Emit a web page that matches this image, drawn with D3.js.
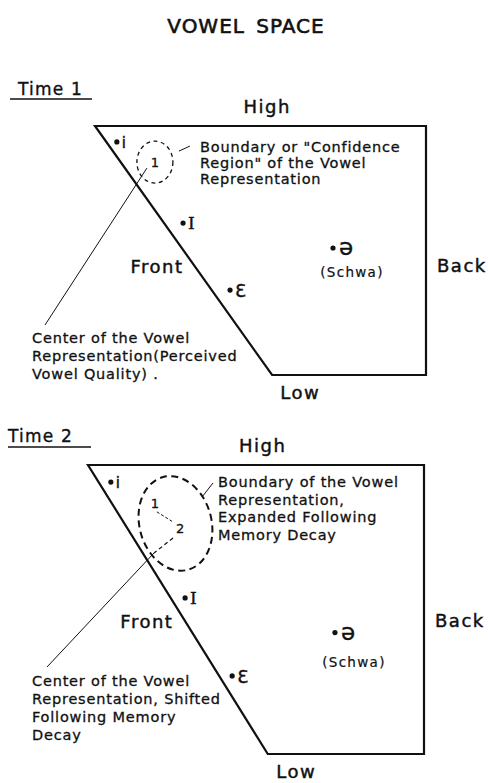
<!DOCTYPE html>
<html>
<head>
<meta charset="utf-8">
<script src="https://cdn.jsdelivr.net/npm/d3@7"></script>
<style>
  html, body { margin: 0; padding: 0; background: #fff; }
  svg { display: block; font-family: "DejaVu Sans", sans-serif; }
</style>
</head>
<body>
<svg width="488" height="783"></svg>
<script>
// Vowel space data: x = backness (0 front .. 1 back), y = height (0 low .. 1 high)
const spaceCorners = [[0, 1], [1, 1], [1, 0], [0.535, 0]];
const vowelSymbols = ['i', 'I', 'Ɛ', 'ə'];
const vowelsT1 = [[0.066, 0.936], [0.266, 0.61], [0.408, 0.341], [0.719, 0.51]];
const vowelsT2 = [[0.068, 0.941], [0.289, 0.54], [0.429, 0.27], [0.735, 0.42]];
const centersT1 = [[0.181, 0.855]];
const centersT2 = [[0.199, 0.869], [0.274, 0.782]];
const centerLabels = ['1', '2'];
const dimensionLabels = ['High', 'Front', 'Back', 'Low'];
const panelTitles = ['Time 1', 'Time 2'];
const boundaryTextT1 = ['Boundary or "Confidence', 'Region" of the Vowel', 'Representation'];
const centerTextT1 = ['Center of the Vowel', 'Representation(Perceived', 'Vowel Quality) .'];
const boundaryTextT2 = ['Boundary of the Vowel', 'Representation,', 'Expanded Following', 'Memory Decay'];
const centerTextT2 = ['Center of the Vowel', 'Representation, Shifted', 'Following Memory', 'Decay'];

const svg = d3.select('svg');
const ink = '#111';

svg.append('text')
  .attr('x', 246).attr('y', 33)
  .attr('text-anchor', 'middle')
  .attr('font-size', 20)
  .attr('letter-spacing', 1)
  .attr('word-spacing', 4)
  .attr('fill', ink).attr('stroke', ink).attr('stroke-width', 0.6)
  .text('VOWEL SPACE');

// panel layout (pixels)
const panels = [
  { title: panelTitles[0], titleX: 18, titleY: 95, lineX: [10, 92], lineY: 99,
    x: [95, 426], y: [375, 126], vowels: vowelsT1, centers: centersT1,
    front: 0.41, back: 0.414, lowDy: 24, schwaDy: 29 },
  { title: panelTitles[1], titleX: 8, titleY: 442, lineX: [8, 91], lineY: 447,
    x: [88, 424], y: [754, 465], vowels: vowelsT2, centers: centersT2,
    front: 0.436, back: 0.44, lowDy: 24, schwaDy: 34 }
];

const bodyText = (g, lines, x, y0, step) => {
  g.append('text')
    .attr('font-size', 14.5)
    .attr('letter-spacing', 0.8)
    .attr('fill', ink).attr('stroke', ink).attr('stroke-width', 0.3)
    .selectAll('tspan').data(lines)
    .enter().append('tspan')
    .attr('x', x)
    .attr('y', (d, i) => y0 + i * step)
    .text(d => d);
};

const charts = panels.map(p => {
  const xScale = d3.scaleLinear().domain([0, 1]).range(p.x);
  const yScale = d3.scaleLinear().domain([0, 1]).range(p.y);
  const g = svg.append('g');

  // panel title with underline
  g.append('text')
    .attr('x', p.titleX).attr('y', p.titleY)
    .attr('font-size', 17).attr('letter-spacing', 1.2)
    .attr('fill', ink).attr('stroke', ink).attr('stroke-width', 0.35)
    .text(p.title);
  g.append('line')
    .attr('x1', p.lineX[0]).attr('x2', p.lineX[1])
    .attr('y1', p.lineY).attr('y2', p.lineY)
    .attr('stroke', ink).attr('stroke-width', 1.6);

  // vowel space outline
  const outline = d3.line().x(d => xScale(d[0])).y(d => yScale(d[1]));
  g.append('path')
    .attr('d', outline(spaceCorners) + 'Z')
    .attr('fill', 'none')
    .attr('stroke', ink)
    .attr('stroke-width', 2.2)
    .attr('stroke-linejoin', 'miter');

  // dimension labels
  const dim = g.append('g')
    .attr('font-size', 18).attr('letter-spacing', 1.5)
    .attr('fill', ink).attr('stroke', ink).attr('stroke-width', 0.45);
  dim.append('text')
    .attr('x', xScale(0.52)).attr('y', yScale(1) - 13)
    .attr('text-anchor', 'middle').text(dimensionLabels[0]);
  dim.append('text')
    .attr('x', xScale(spaceCorners[3][0] * (1 - p.front)) - 16)
    .attr('y', yScale(p.front))
    .attr('text-anchor', 'end').text(dimensionLabels[1]);
  dim.append('text')
    .attr('x', xScale(1) + 11).attr('y', yScale(p.back))
    .text(dimensionLabels[2]);
  dim.append('text')
    .attr('x', xScale(0.62)).attr('y', yScale(0) + p.lowDy)
    .attr('text-anchor', 'middle').text(dimensionLabels[3]);

  // vowels
  const vowel = g.selectAll('.vowel').data(p.vowels)
    .enter().append('g').attr('class', 'vowel')
    .attr('transform', d => `translate(${xScale(d[0])},${yScale(d[1])})`);
  vowel.append('circle').attr('r', 2.6).attr('fill', ink);
  vowel.append('text')
    .attr('x', (d, i) => i === 3 ? 6 : 5)
    .attr('y', (d, i) => [6, 6, 7, 7][i])
    .attr('font-family', (d, i) => i === 1 ? '"DejaVu Serif", serif' : null)
    .attr('font-size', (d, i) => [15, 17, 18, 23][i])
    .attr('fill', ink).attr('stroke', ink).attr('stroke-width', 0.4)
    .text((d, i) => vowelSymbols[i]);
  const schwa = p.vowels[3];
  g.append('text')
    .attr('x', xScale(schwa[0]) + 19).attr('y', yScale(schwa[1]) + p.schwaDy)
    .attr('text-anchor', 'middle')
    .attr('font-size', 13.5).attr('letter-spacing', 1.3)
    .attr('fill', ink).attr('stroke', ink).attr('stroke-width', 0.2)
    .text('(Schwa)');

  // perceived centers
  g.selectAll('.center').data(p.centers)
    .enter().append('text').attr('class', 'center')
    .attr('x', d => xScale(d[0]))
    .attr('y', d => yScale(d[1]) + 5)
    .attr('text-anchor', 'middle')
    .attr('font-size', 13)
    .attr('fill', ink).attr('stroke', ink).attr('stroke-width', 0.3)
    .text((d, i) => centerLabels[i]);

  return { g, xScale, yScale, p };
});

// Time 1 annotations
{
  const { g, xScale, yScale } = charts[0];
  const c = centersT1[0];
  const cx = xScale(c[0]), cy = yScale(c[1]);
  g.append('ellipse')
    .attr('cx', cx).attr('cy', cy).attr('rx', 18).attr('ry', 21)
    .attr('fill', 'none').attr('stroke', ink)
    .attr('stroke-width', 1.3).attr('stroke-dasharray', '4,3.5');
  g.append('line')
    .attr('x1', cx + 24).attr('y1', cy - 11).attr('x2', cx + 35).attr('y2', cy - 16)
    .attr('stroke', ink).attr('stroke-width', 1);
  g.append('line')
    .attr('x1', cx - 8).attr('y1', cy + 6).attr('x2', 45).attr('y2', 325)
    .attr('stroke', ink).attr('stroke-width', 1);
  bodyText(g, boundaryTextT1, 200, 152, 16);
  bodyText(g, centerTextT1, 32, 343, 18);
}

// Time 2 annotations
{
  const { g, xScale, yScale } = charts[1];
  const [c1, c2] = centersT2;
  const x1 = xScale(c1[0]), y1 = yScale(c1[1]);
  const x2 = xScale(c2[0]), y2 = yScale(c2[1]);
  const ex = (x1 + x2) / 2 + 8, ey = (y1 + y2) / 2 + 8;
  g.append('ellipse')
    .attr('cx', 0).attr('cy', 0).attr('rx', 36).attr('ry', 48)
    .attr('transform', `translate(${ex},${ey}) rotate(-15)`)
    .attr('fill', 'none').attr('stroke', ink)
    .attr('stroke-width', 2).attr('stroke-dasharray', '7,4.5');
  // shift from 1 to 2
  g.append('line')
    .attr('x1', x1 + 2).attr('y1', y1 + 9).attr('x2', x2 - 7).attr('y2', y2 - 6)
    .attr('stroke', ink).attr('stroke-width', 1).attr('stroke-dasharray', '3,2');
  // boundary leader
  g.append('line')
    .attr('x1', 202).attr('y1', 497).attr('x2', 213).attr('y2', 483)
    .attr('stroke', ink).attr('stroke-width', 1);
  // center leader: dashed inside the region, solid outside
  g.append('line')
    .attr('x1', x2 - 7).attr('y1', y2 + 10).attr('x2', 154).attr('y2', 553)
    .attr('stroke', ink).attr('stroke-width', 1.2).attr('stroke-dasharray', '4,3');
  g.append('line')
    .attr('x1', 154).attr('y1', 553).attr('x2', 47).attr('y2', 667)
    .attr('stroke', ink).attr('stroke-width', 1);
  bodyText(g, boundaryTextT2, 218, 487, 17.6);
  bodyText(g, centerTextT2, 32, 686, 18);
}
</script>
</body>
</html>
